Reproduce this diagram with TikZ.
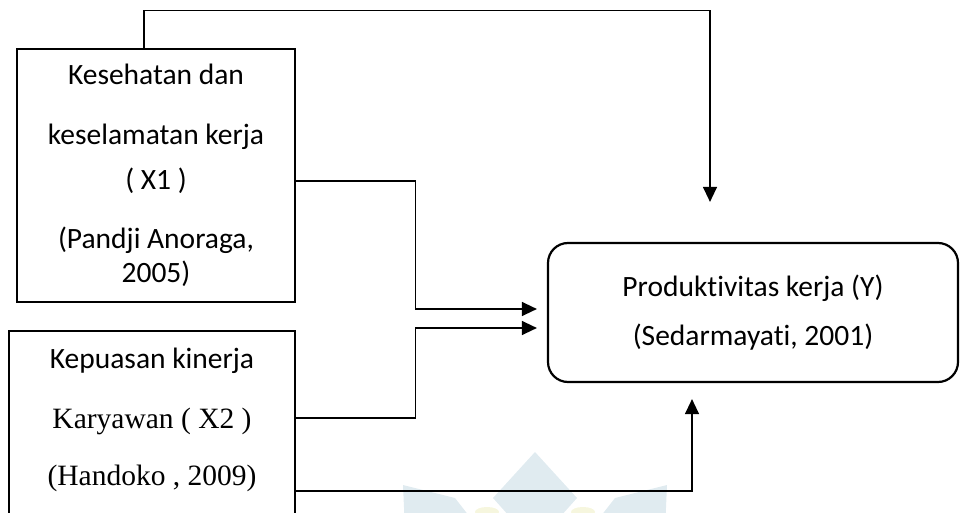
\documentclass[tikz,border=0pt]{standalone}
\usepackage{fontspec}
\setmainfont{Carlito}[Ligatures=NoCommon]
\newfontfamily\timesfont{Liberation Serif}
\usetikzlibrary{arrows.meta, positioning, calc}
\definecolor{wmblue}{RGB}{224,235,240}
\definecolor{wmyellow}{RGB}{246,246,222}
\tikzset{
  varbox/.style={rectangle, draw, line width=2.4pt, align=center, inner sep=0pt, font=\fontsize{29.5}{34}\selectfont},
  resbox/.style={rectangle, draw, line width=2.2pt, rounded corners=20pt, align=center, inner sep=0pt, font=\fontsize{29.5}{34}\selectfont},
  arrow/.style={-{Triangle[length=15pt,width=14pt]}, line width=1.3pt},
}

\begin{document}
\begin{tikzpicture}[x=1pt, y=-1pt]
\useasboundingbox (0,0) rectangle (961,513);
\clip (0,0) rectangle (961,513);
% faint watermark behind
\fill[wmblue] (535,452) -- (577,498) -- (535,545) -- (493,498) -- cycle;
\fill[wmblue] (403,485) -- (455,498) -- (480,530) -- (405,530) -- cycle;
\fill[wmblue] (667,485) -- (615,498) -- (590,530) -- (665,530) -- cycle;
\fill[wmyellow] (487,512) ellipse (12pt and 5pt);
\fill[wmyellow] (583,512) ellipse (12pt and 5pt);
% boxes
\node (x1) [varbox, minimum width=278pt, minimum height=253pt] at (156,175.5) {Kesehatan dan\\[26pt]keselamatan kerja\\[11pt]( X1 )\\[25pt](Pandji Anoraga,\\2005)};
\node (x2) [varbox, draw=none, minimum width=284pt, minimum height=176pt] at (152,420) {Kepuasan kinerja\\[26pt]{\timesfont Karyawan ( X2 )}\\[23pt]{\timesfont (Handoko , 2009)}};
\draw[line width=2.4pt] ([yshift=-20pt]x2.south west) |- (x2.north east) -- ([yshift=-20pt]x2.south east);
\node (y) [resbox, minimum width=410pt, minimum height=139pt] at (753,312.5) {Produktivitas kerja (Y)\\[15pt](Sedarmayati, 2001)};
% connectors
\draw[arrow] ([xshift=-12pt]x1.north) -- ++(0,-37) -| ([xshift=-43pt,yshift=40pt]y.north);
\draw[arrow] ([yshift=-5.5pt]x1.east) -- ++(119,0) |- ([xshift=-10pt,yshift=3.5pt]y.west);
\draw[arrow] ([yshift=2pt]x2.east) -- ++(120,0) |- ([xshift=-10pt,yshift=-15.5pt]y.west);
\draw[arrow] ([yshift=-71pt]x2.east) -| ([xshift=-61pt,yshift=-16pt]y.south);
\end{tikzpicture}
\end{document}
